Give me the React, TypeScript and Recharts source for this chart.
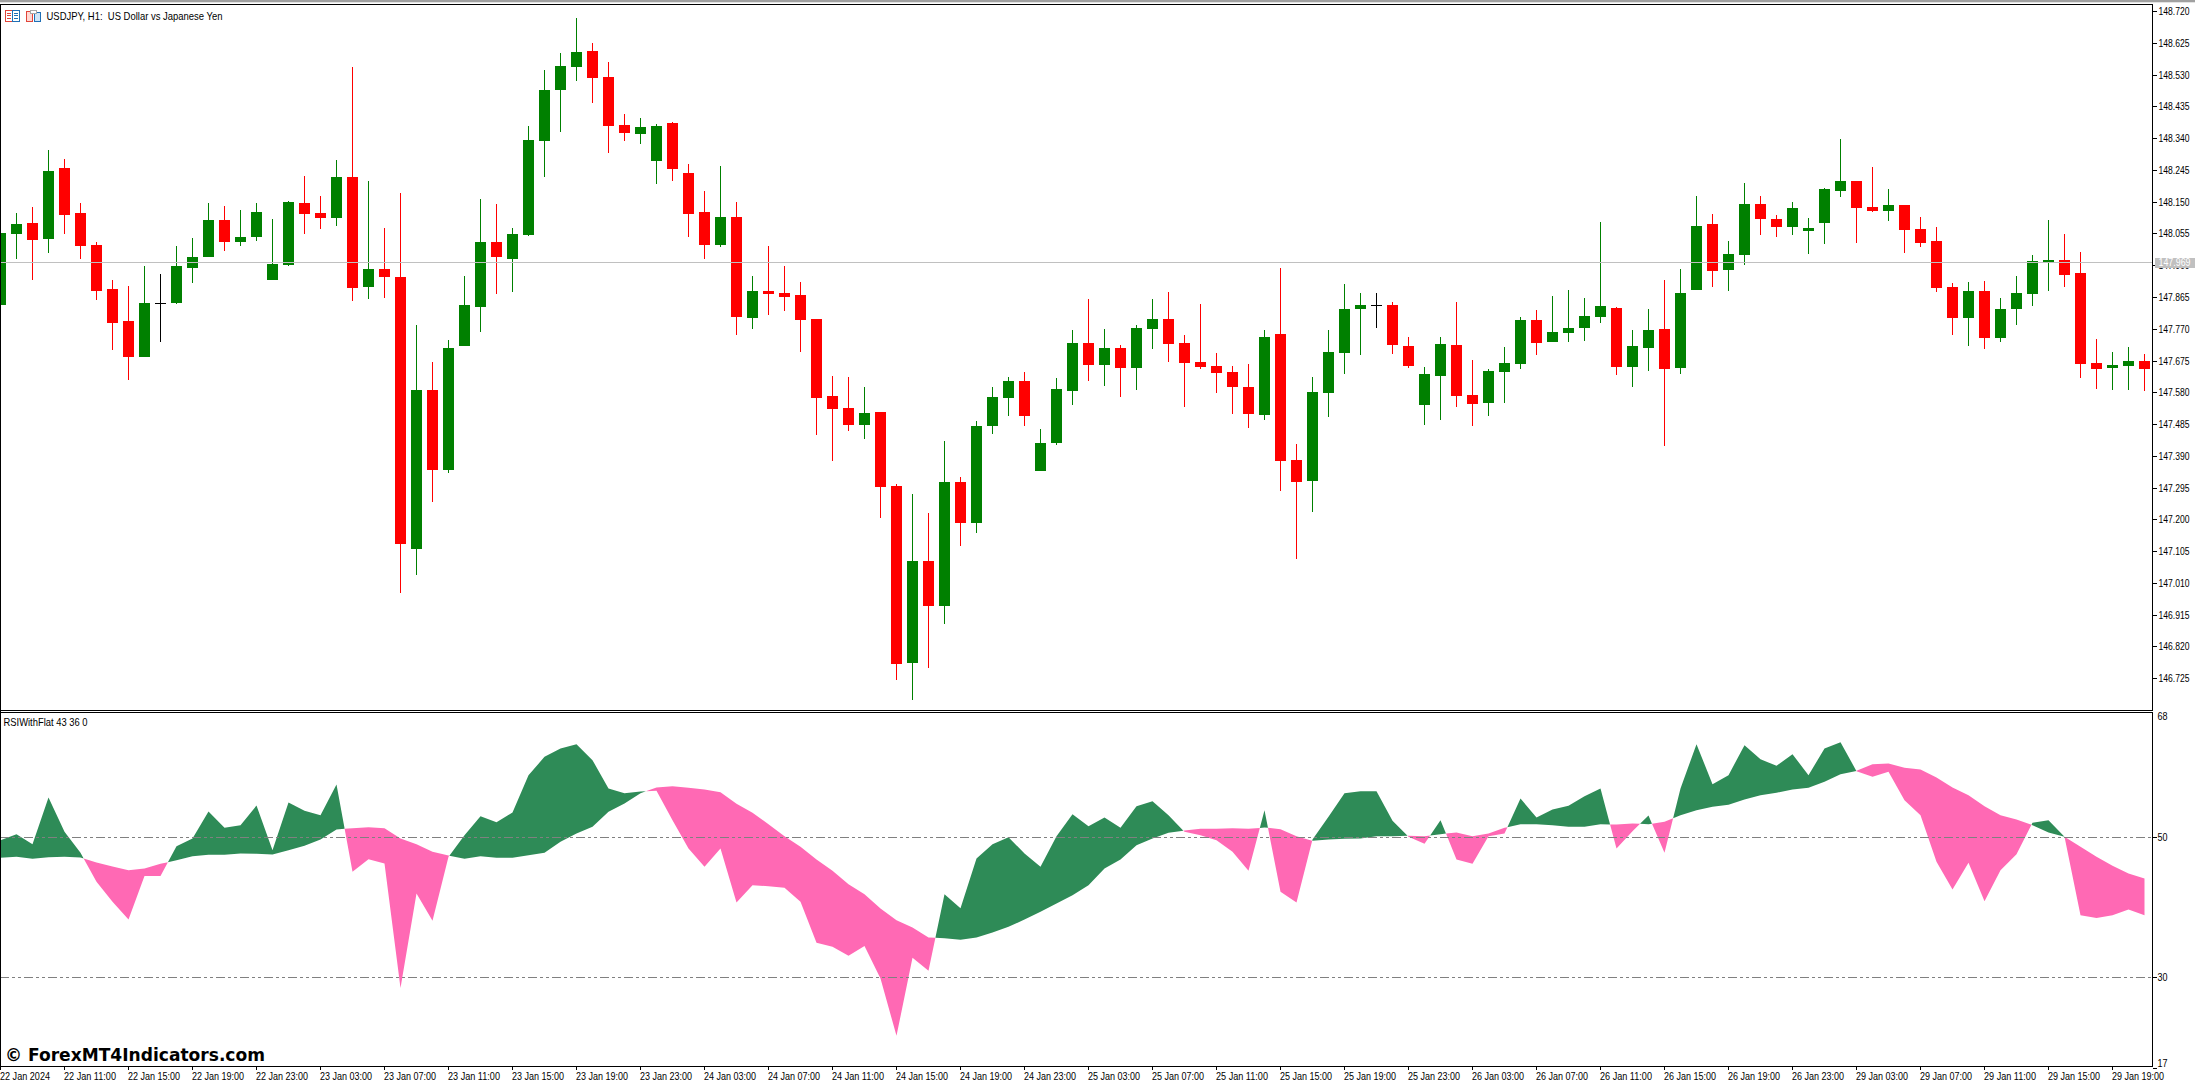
import React from "react";
import { ComposedChart, Bar, Area, XAxis, YAxis, ReferenceLine } from "recharts";

const opens = [
147.843,148.055,148.088,148.040,148.253,148.118,148.022,147.891,147.795,147.687,
147.848,147.849,147.953,147.986,148.097,148.031,148.046,147.918,147.962,148.148,
148.118,148.103,148.226,147.897,147.950,147.926,147.113,147.589,147.349,147.720,
147.837,148.031,147.980,148.052,148.333,148.486,148.555,148.602,148.525,148.381,
148.354,148.273,148.387,148.238,148.121,148.022,148.106,147.804,147.885,147.879,
147.873,147.801,147.571,147.535,147.484,147.523,147.301,146.772,147.077,146.942,
147.313,147.191,147.481,147.565,147.615,147.346,147.430,147.586,147.729,147.663,
147.714,147.654,147.771,147.801,147.729,147.672,147.660,147.642,147.597,147.514,
147.756,147.379,147.316,147.580,147.699,147.830,147.842,147.843,147.720,147.544,
147.630,147.723,147.574,147.550,147.642,147.666,147.798,147.732,147.759,147.774,
147.807,147.834,147.657,147.714,147.771,147.654,147.888,148.085,147.948,147.992,
148.145,148.100,148.076,148.064,148.088,148.184,148.214,148.136,148.124,148.142,
148.070,148.034,147.897,147.804,147.885,147.744,147.831,147.876,147.971,147.977,
147.938,147.669,147.654,147.660,147.675];

const closes = [
148.058,148.085,148.037,148.244,148.112,148.019,147.885,147.789,147.687,147.849,
147.848,147.959,147.986,148.097,148.031,148.046,148.121,147.965,148.151,148.115,
148.103,148.226,147.894,147.950,147.926,147.128,147.589,147.349,147.714,147.843,
148.031,147.986,148.055,148.336,148.486,148.558,148.599,148.522,148.378,148.357,
148.375,148.378,148.250,148.115,148.022,148.106,147.807,147.885,147.876,147.867,
147.798,147.565,147.532,147.484,147.520,147.298,146.769,147.077,146.942,147.313,
147.191,147.481,147.568,147.615,147.511,147.430,147.591,147.729,147.663,147.714,
147.654,147.774,147.801,147.726,147.669,147.657,147.639,147.597,147.517,147.747,
147.376,147.313,147.583,147.702,147.830,147.843,147.842,147.723,147.660,147.636,
147.726,147.571,147.547,147.645,147.669,147.798,147.729,147.762,147.774,147.810,
147.840,147.657,147.720,147.768,147.651,147.879,148.079,147.945,147.995,148.145,
148.100,148.076,148.133,148.073,148.190,148.214,148.133,148.124,148.142,148.067,
148.028,147.894,147.804,147.885,147.744,147.831,147.879,147.974,147.977,147.932,
147.666,147.651,147.663,147.675,147.651];

const highs = [
148.058,148.118,148.136,148.306,148.279,148.148,148.031,147.918,147.900,147.959,
147.935,148.019,148.043,148.148,148.139,148.127,148.148,148.100,148.154,148.229,
148.169,148.276,148.555,148.214,148.073,148.178,147.783,147.672,147.738,147.929,
148.160,148.145,148.073,148.378,148.546,148.596,148.701,148.626,148.570,148.414,
148.402,148.384,148.390,148.264,148.184,148.258,148.151,147.930,148.019,147.959,
147.912,147.801,147.630,147.627,147.597,147.523,147.307,147.277,147.221,147.436,
147.328,147.496,147.597,147.627,147.642,147.472,147.624,147.768,147.861,147.771,
147.723,147.783,147.861,147.882,147.753,147.846,147.699,147.660,147.666,147.768,
147.953,147.427,147.627,147.768,147.906,147.879,147.879,147.852,147.747,147.657,
147.747,147.852,147.678,147.651,147.717,147.807,147.828,147.870,147.888,147.864,
148.091,147.837,147.768,147.831,147.918,147.950,148.169,148.115,148.034,148.208,
148.169,148.112,148.151,148.103,148.193,148.339,148.214,148.256,148.190,148.142,
148.106,148.076,147.909,147.912,147.915,147.864,147.930,147.992,148.097,148.055,
148.001,147.741,147.702,147.717,147.696];

const lows = [
147.843,147.980,147.918,147.998,148.055,147.980,147.858,147.708,147.618,147.687,
147.732,147.846,147.909,147.986,148.004,148.019,148.034,147.918,147.959,148.055,
148.070,148.079,147.855,147.861,147.864,146.981,147.035,147.254,147.340,147.720,
147.762,147.876,147.882,148.049,148.226,148.360,148.513,148.447,148.297,148.333,
148.324,148.205,148.214,148.046,147.980,148.016,147.753,147.771,147.813,147.825,
147.702,147.454,147.376,147.466,147.442,147.206,146.721,146.661,146.757,146.889,
147.122,147.161,147.457,147.511,147.481,147.346,147.424,147.544,147.615,147.600,
147.568,147.589,147.711,147.672,147.538,147.651,147.580,147.517,147.475,147.499,
147.286,147.083,147.224,147.508,147.636,147.693,147.774,147.696,147.654,147.484,
147.499,147.538,147.481,147.511,147.550,147.651,147.693,147.732,147.732,147.735,
147.789,147.633,147.597,147.645,147.421,147.636,147.888,147.897,147.885,147.962,
148.052,148.046,148.052,147.995,148.025,148.166,148.028,148.121,148.094,147.998,
148.016,147.882,147.753,147.720,147.711,147.732,147.783,147.840,147.885,147.897,
147.624,147.591,147.589,147.589,147.586];

const rsiSlow = [
47.10,47.24,46.95,47.19,47.24,47.14,46.43,45.86,45.33,45.57,
46.24,46.76,47.33,47.52,47.52,47.71,47.67,47.57,48.19,48.81,
49.71,51.14,51.33,51.48,51.33,49.86,49.05,47.95,47.43,46.95,
47.33,47.10,47.10,47.48,47.81,49.38,50.57,51.52,53.67,54.86,
56.33,57.14,57.33,57.10,56.86,56.48,54.81,53.52,51.90,50.19,
48.67,46.86,45.24,43.33,41.90,39.86,38.19,37.14,35.71,35.62,
35.38,35.71,36.43,37.24,38.29,39.38,40.57,41.76,43.19,45.57,
46.86,48.90,49.86,50.67,51.00,51.24,51.24,51.33,51.24,51.43,
51.19,50.19,49.52,49.71,49.81,49.86,50.19,50.19,50.24,50.19,
50.48,50.71,50.19,50.57,51.38,51.90,51.90,51.76,51.52,51.52,
51.90,51.86,52.00,51.90,52.24,53.19,53.90,54.38,54.67,55.43,
56.05,56.38,56.86,57.10,57.95,59.05,59.52,60.48,60.57,59.95,
59.71,58.57,57.14,56.05,54.48,53.19,52.57,51.76,50.71,50.10,
48.67,47.24,45.95,44.86,44.14];

const rsiFast = [
49.62,50.48,49.05,55.71,50.81,47.81,43.67,40.81,38.29,44.52,
44.52,48.76,49.86,53.71,51.38,51.76,54.57,48.19,55.00,53.81,
53.19,57.57,45.10,46.90,46.29,28.52,42.00,38.10,47.24,50.33,
53.05,52.19,53.57,58.90,61.52,62.71,63.33,61.05,57.00,56.33,
56.57,56.67,52.48,48.43,45.81,48.43,40.71,43.19,43.05,42.81,
40.81,34.95,34.38,33.10,34.52,29.86,21.67,32.81,30.95,41.90,
39.90,47.00,49.05,50.05,47.71,45.81,50.19,53.33,51.62,52.86,
51.38,54.48,55.19,53.19,50.81,50.33,49.62,47.95,45.24,53.90,
42.24,40.71,49.71,52.95,56.33,56.62,56.62,52.38,50.10,49.10,
52.48,46.86,46.24,50.19,50.57,55.57,52.86,54.00,54.52,55.90,
57.00,48.43,50.90,53.14,47.81,57.00,63.33,57.62,58.90,63.19,
61.19,60.24,61.90,58.90,62.71,63.62,59.48,58.67,59.38,55.33,
53.19,46.52,42.57,46.38,40.90,45.33,47.62,52.10,52.48,50.10,
38.90,38.52,38.90,39.71,38.90];

const priceTicks = [148.72,148.625,148.53,148.435,148.34,148.245,148.15,148.055,147.96,147.865,147.77,147.675,147.58,147.485,147.39,147.295,147.2,147.105,147.01,146.915,146.82,146.725];
const currentPrice = 147.969;
const rsiTicks = [68, 50, 30, 17];
const rsiLevels = [50, 30];
const timeTickBars = [0,4,8,12,16,20,24,28,32,36,40,44,48,52,56,60,64,68,72,76,80,84,88,92,96,100,104,108,112,116,120,124,128,132];
const timeTickLabels = [
"22 Jan 2024","22 Jan 11:00","22 Jan 15:00","22 Jan 19:00","22 Jan 23:00",
"23 Jan 03:00","23 Jan 07:00","23 Jan 11:00","23 Jan 15:00","23 Jan 19:00","23 Jan 23:00",
"24 Jan 03:00","24 Jan 07:00","24 Jan 11:00","24 Jan 15:00","24 Jan 19:00","24 Jan 23:00",
"25 Jan 03:00","25 Jan 07:00","25 Jan 11:00","25 Jan 15:00","25 Jan 19:00","25 Jan 23:00",
"26 Jan 03:00","26 Jan 07:00","26 Jan 11:00","26 Jan 15:00","26 Jan 19:00","26 Jan 23:00",
"29 Jan 03:00","29 Jan 07:00","29 Jan 11:00","29 Jan 15:00","29 Jan 19:00"];

const UP = "#008000";
const DOWN = "#FF0000";
const FONT = "'Liberation Sans', Arial, sans-serif";
const DASH = "9 3 3 3 3 3";

const priceRows = opens.map((o, i) => ({
  bar: i, open: o, close: closes[i], high: highs[i], low: lows[i], range: [lows[i], highs[i]],
}));

// The two filled bands meet where the fast and slow lines cross; each crossing
// gets a vertex of its own so that neither colour spills over it.
const rsiRows: any[] = [];
rsiSlow.forEach((s, i) => {
  const f = rsiFast[i];
  rsiRows.push({ bar: i, upBand: [s, Math.max(s, f)], downBand: [Math.min(s, f), s] });
  if (i + 1 < rsiSlow.length) {
    const d0 = f - s;
    const d1 = rsiFast[i + 1] - rsiSlow[i + 1];
    if (d0 * d1 < 0) {
      const t = d0 / (d0 - d1);
      const v = s + (rsiSlow[i + 1] - s) * t;
      rsiRows.push({ bar: i + t, upBand: [v, v], downBand: [v, v] });
    }
  }
});

function Candle(props: any) {
  const { x, y, width, height, payload } = props;
  const { open, close, high, low } = payload;
  const perUnit = height / (high - low);
  const cx = x + width / 2;
  const top = y + (high - Math.max(open, close)) * perUnit;
  const bodyH = Math.abs(open - close) * perUnit;
  const color = close > open ? UP : close < open ? DOWN : "#000000";
  return (
    <g shapeRendering="crispEdges">
      <rect x={cx - 0.5} y={y} width={1} height={height} fill={color} />
      <rect x={cx - 5.5} y={top} width={11} height={Math.max(bodyH, 1)} fill={color} />
    </g>
  );
}

function PriceTick(props: any) {
  const { x, y, payload } = props;
  const v = payload.value;
  if (v === currentPrice) {
    return (
      <g>
        <rect x={x + 2} y={y - 5} width={40} height={10} fill="#c0c0c0" shapeRendering="crispEdges" />
        <text x={x + 6} y={y + 3.5} fontFamily={FONT} fontSize={10} fill="#ffffff" textLength={32} lengthAdjust="spacingAndGlyphs">{v.toFixed(3)}</text>
      </g>
    );
  }
  return (
    <g>
      <rect x={x} y={y - 0.5} width={4} height={1} fill="#000" shapeRendering="crispEdges" />
      <text x={x + 6} y={y + 3.5} fontFamily={FONT} fontSize={10} fill="#000" textLength={31} lengthAdjust="spacingAndGlyphs">{v.toFixed(3)}</text>
    </g>
  );
}

function RsiTick(props: any) {
  const { x, y, payload } = props;
  const v = payload.value;
  const labelY = v === 68 ? y + 5 : v === 17 ? y - 5 : y;
  return (
    <g>
      <rect x={x} y={y - 0.5} width={4} height={1} fill="#000" shapeRendering="crispEdges" />
      <text x={x + 5} y={labelY + 3.5} fontFamily={FONT} fontSize={10.5} fill="#000" textLength={10} lengthAdjust="spacingAndGlyphs">{v}</text>
    </g>
  );
}

function TimeTick(props: any) {
  const { x, y, payload } = props;
  const label = timeTickLabels[timeTickBars.indexOf(payload.value)];
  return (
    <g>
      <rect x={x - 0.5} y={y} width={1} height={4} fill="#000" shapeRendering="crispEdges" />
      <text x={x - 0.5} y={y + 13.5} fontFamily={FONT} fontSize={10.5} fill="#000" textLength={payload.value === 0 ? 50 : 52} lengthAdjust="spacingAndGlyphs">{label}</text>
    </g>
  );
}

function Frame() {
  return (
    <svg width={2195} height={1084} style={{ position: "absolute", left: 0, top: 0, pointerEvents: "none" }}>
      <g shapeRendering="crispEdges">
        <rect x={0} y={0} width={2195} height={2} fill="#a0a0a0" />
        <rect x={0} y={2} width={2195} height={1} fill="#e3e3e3" />
        <rect x={0} y={4} width={2153} height={1} fill="#000" />
        <rect x={0} y={4} width={1} height={1062} fill="#000" />
        <rect x={0} y={710} width={2153} height={1} fill="#000" />
        <rect x={1} y={711} width={2151} height={1} fill="#fff" />
        <rect x={0} y={712} width={2153} height={1} fill="#000" />
        <rect x={5} y={10} width={7} height={11} fill="#fff" stroke="#e0453a" />
        <rect x={12} y={10} width={7} height={11} fill="#fff" stroke="#1f6fb5" />
        <path d="M7 13h4M7 15h4M7 18h4" stroke="#e0453a" />
        <path d="M14 13h4M14 15h4M14 18h4" stroke="#1f6fb5" />
        <rect x={26} y={11} width={6} height={10} fill="#ffd9d4" stroke="#e0453a" />
        <rect x={34} y={12} width={6} height={9} fill="#cfe6f7" stroke="#1f6fb5" />
        <rect x={30} y={10} width={6} height={3} fill="#fff" stroke="#a8a8a8" />
      </g>
      <text x={46.5} y={19.5} fontFamily={FONT} fontSize={10.5} fill="#000" textLength={176} lengthAdjust="spacingAndGlyphs" xmlSpace="preserve">USDJPY, H1:  US Dollar vs Japanese Yen</text>
      <text x={3.5} y={725.5} fontFamily={FONT} fontSize={10.5} fill="#000" textLength={84} lengthAdjust="spacingAndGlyphs">RSIWithFlat 43 36 0</text>
      <text x={5} y={1061} fontFamily="'DejaVu Sans', sans-serif" fontWeight="bold" fontSize={18} fill="#000" textLength={260} lengthAdjust="spacingAndGlyphs">© ForexMT4Indicators.com</text>
    </svg>
  );
}

export default function App() {
  return (
    <div style={{ position: "absolute", left: 0, top: 0, width: 2195, height: 1084, overflow: "hidden", background: "#fff" }}>
      <div style={{ position: "absolute", left: -8, top: 0 }}>
        <ComposedChart width={2203} height={711} data={priceRows} margin={{ top: 5, right: 0, bottom: 1, left: 0.5 }} barCategoryGap={0}>
          <XAxis dataKey="bar" hide scale="band" />
          <YAxis
            orientation="right"
            width={42.5}
            type="number"
            domain={[146.631, 148.74]}
            allowDataOverflow
            ticks={[...priceTicks, currentPrice]}
            interval={0}
            tick={PriceTick}
            tickSize={0}
            tickMargin={0}
            tickLine={false}
            axisLine={{ stroke: "#000", shapeRendering: "crispEdges" }}
          />
          <ReferenceLine y={currentPrice} stroke="#c0c0c0" strokeWidth={1} shapeRendering="crispEdges" />
          <Bar dataKey="range" barSize={12} shape={Candle} isAnimationActive={false} />
        </ComposedChart>
      </div>
      <div style={{ position: "absolute", left: -8, top: 712 }}>
        <ComposedChart width={2203} height={372} data={rsiRows} margin={{ top: 0, right: 0, bottom: 0, left: 0.5 }}>
          <XAxis
            dataKey="bar"
            type="number"
            domain={[-0.5, 134.5]}
            allowDataOverflow
            height={18}
            ticks={timeTickBars}
            interval={0}
            tick={TimeTick}
            tickSize={0}
            tickMargin={0}
            tickLine={false}
            axisLine={{ stroke: "#000", shapeRendering: "crispEdges" }}
          />
          <YAxis
            orientation="right"
            width={42.5}
            type="number"
            domain={[17.36, 67.93]}
            allowDataOverflow
            ticks={rsiTicks}
            interval={0}
            tick={RsiTick}
            tickSize={0}
            tickMargin={0}
            tickLine={false}
            axisLine={{ stroke: "#000", shapeRendering: "crispEdges" }}
          />
          <Area dataKey="upBand" type="linear" stroke="none" fill="#2E8B57" fillOpacity={1} dot={false} activeDot={false} isAnimationActive={false} />
          <Area dataKey="downBand" type="linear" stroke="none" fill="#FF69B4" fillOpacity={1} dot={false} activeDot={false} isAnimationActive={false} />
          {rsiLevels.map((l) => (
            <ReferenceLine key={l} y={l} stroke="#808080" strokeWidth={1} strokeDasharray={DASH} strokeDashoffset={16.5} shapeRendering="crispEdges" />
          ))}
        </ComposedChart>
      </div>
      <Frame />
    </div>
  );
}
